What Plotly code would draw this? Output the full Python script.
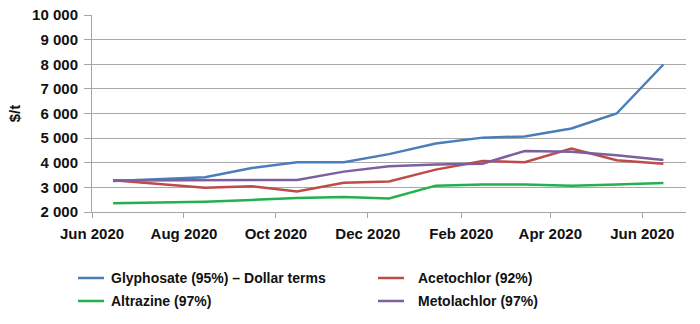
import plotly.graph_objects as go

dates = ["2020-06-15", "2020-07-15", "2020-08-15", "2020-09-15", "2020-10-15",
         "2020-11-15", "2020-12-15", "2021-01-15", "2021-02-15", "2021-03-15",
         "2021-04-15", "2021-05-15", "2021-06-15"]

glyphosate = [3260, 3330, 3410, 3790, 4020, 4020, 4350, 4780, 5020, 5070, 5390, 6000, 7990]
acetochlor = [3290, 3150, 2980, 3050, 2830, 3190, 3240, 3720, 4070, 4020, 4580, 4100, 3960]
altrazine = [2360, 2380, 2420, 2490, 2570, 2610, 2550, 3070, 3120, 3120, 3070, 3120, 3180]
metolachlor = [3280, 3280, 3290, 3290, 3300, 3640, 3860, 3930, 3960, 4480, 4450, 4300, 4110]

tick_dates = ["2020-06-01", "2020-08-01", "2020-10-01", "2020-12-01",
              "2021-02-01", "2021-04-01", "2021-06-01"]
tick_labels = ["Jun 2020", "Aug 2020", "Oct 2020", "Dec 2020",
               "Feb 2020", "Apr 2020", "Jun 2020"]
y_ticks = [2000, 3000, 4000, 5000, 6000, 7000, 8000, 9000, 10000]

series_names = ["Glyphosate (95%) – Dollar terms", "Acetochlor (92%)",
                "Altrazine (97%)", "Metolachlor (97%)"]
series_values = [glyphosate, acetochlor, altrazine, metolachlor]
series_colors = ["#4a7ebb", "#be4b48", "#22b14c", "#7d5fa0"]

# plot area in pixels: x 92..686, y 15..212
L, R, T, B = 92, 14, 15, 112
W, H = 700, 324
PW, PH = W - L - R, H - T - B

def px(x):
    return (x - L) / PW

def py(y):
    return (H - B - y) / PH

fig = go.Figure()
for name, vals, color in zip(series_names, series_values, series_colors):
    fig.add_trace(go.Scatter(x=dates, y=vals, name=name, mode="lines",
                             line=dict(color=color, width=2.5), showlegend=False))

font_family = "Liberation Sans, Arial, sans-serif"

# manual two-column legend
legend_slots = [(78, 104, 109, 278), (378, 404, 416, 278),
                (78, 104, 109, 301), (378, 404, 416, 301)]
shapes, annotations = [], []
for (x0, x1, xt, yc), name, color in zip(legend_slots, series_names, series_colors):
    shapes.append(dict(type="line", xref="paper", yref="paper",
                       x0=px(x0), x1=px(x1), y0=py(yc), y1=py(yc),
                       line=dict(color=color, width=2.5)))
    annotations.append(dict(xref="paper", yref="paper", x=px(xt), y=py(yc),
                            xanchor="left", yanchor="middle", showarrow=False,
                            text=name,
                            font=dict(size=14, family=font_family, weight="bold", color="#111111")))

fig.update_layout(
    width=W, height=H,
    margin=dict(l=L, r=R, t=T, b=B),
    paper_bgcolor="white", plot_bgcolor="white",
    separators=". ",
    font=dict(family=font_family, color="#111111"),
    showlegend=False,
    shapes=shapes, annotations=annotations,
    xaxis=dict(type="date", range=["2020-06-01", "2021-06-30"],
               tickvals=tick_dates, ticktext=tick_labels,
               showgrid=False, showline=True, linecolor="#a6a6a6", linewidth=1,
               ticks="outside", ticklen=5, tickcolor="#a6a6a6",
               ticklabelstandoff=3,
               tickfont=dict(size=15, family=font_family, weight="bold", color="#111111"),
               zeroline=False, automargin=False),
    yaxis=dict(range=[2000, 10000], tickvals=y_ticks, tickformat=",d",
               showgrid=True, gridcolor="#a9a9a9", gridwidth=1,
               showline=True, linecolor="#a6a6a6", linewidth=1,
               ticks="outside", ticklen=7, tickcolor="#a6a6a6",
               ticklabelstandoff=3,
               tickfont=dict(size=15, family=font_family, weight="bold", color="#111111"),
               title=dict(text="$/t", standoff=7,
                          font=dict(size=15, family=font_family, weight="bold", color="#111111")),
               zeroline=False, automargin=False),
)

fig.write_html("out.html")
